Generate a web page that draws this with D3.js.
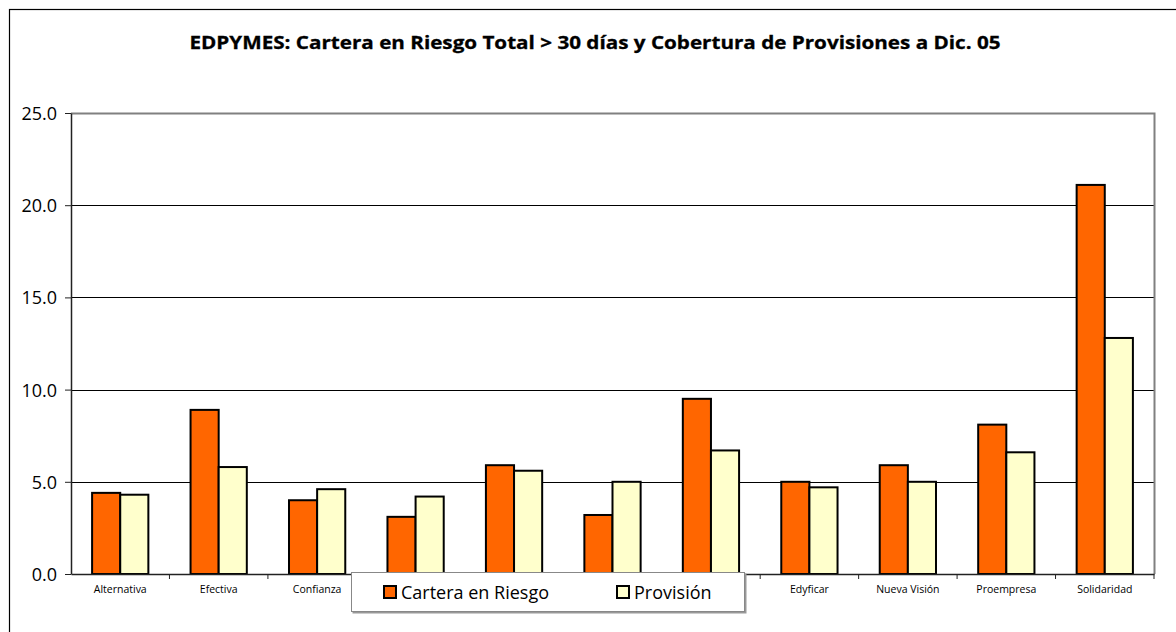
<!DOCTYPE html>
<html lang="es">
<head>
<meta charset="utf-8">
<script src="https://d3js.org/d3.v7.min.js"></script>
<style>
  body { margin: 0; background: #fff; }
  text { font-family: "Open Sans", "Noto Sans", sans-serif; fill: #000; }
</style>
</head>
<body>
<svg width="1176" height="632"></svg>
<script>
// data
var categories = ["Alternativa", "Efectiva", "Confianza", "Crear Arequipa", "Crear Tacna",
                  "Crear Trujillo", "Pronegocios", "Edyficar", "Nueva Visión", "Proempresa", "Solidaridad"];
var carteraRiesgo = [4.4, 8.9, 4.0, 3.1, 5.9, 3.2, 9.5, 5.0, 5.9, 8.1, 21.1];
var provision     = [4.3, 5.8, 4.6, 4.2, 5.6, 5.0, 6.7, 4.7, 5.0, 6.6, 12.8];
var seriesNames = ["Cartera en Riesgo", "Provisión"];
var seriesColors = ["#FF6600", "#FFFFCC"];
var yTicks = [0, 5, 10, 15, 20, 25];

var svg = d3.select("svg");

// outer chart frame (runs off the right and bottom edge)
svg.append("rect")
  .attr("x", 9.5).attr("y", 9.5)
  .attr("width", 1300).attr("height", 800)
  .attr("fill", "none").attr("stroke", "#000").attr("stroke-width", 1.2);

// title
svg.append("text")
  .attr("x", 595).attr("y", 49)
  .attr("text-anchor", "middle")
  .attr("font-size", "18px").attr("font-weight", "bold")
  .attr("stroke", "#000").attr("stroke-width", 0.3)
  .attr("textLength", 811).attr("lengthAdjust", "spacingAndGlyphs")
  .text("EDPYMES: Cartera en Riesgo Total > 30 días y Cobertura de Provisiones a Dic. 05");

var plotLeft = 71, plotRight = 1154, plotTop = 113, plotBottom = 574;

var x = d3.scaleBand().domain(categories).range([plotLeft, plotRight]).paddingInner(0).paddingOuter(0);
var y = d3.scaleLinear().domain([0, 25]).range([plotBottom, plotTop]);
var groupW = x.bandwidth() * 2 / 3.5;
var x1 = d3.scaleBand().domain(seriesNames).range([0, groupW]);

// gridlines
svg.append("g").selectAll("line")
  .data(yTicks.filter(function(d) { return d > 0 && d < 25; }))
  .enter().append("line")
  .attr("x1", plotLeft).attr("x2", plotRight)
  .attr("y1", function(d) { return Math.round(y(d)) + 0.5; })
  .attr("y2", function(d) { return Math.round(y(d)) + 0.5; })
  .attr("stroke", "#000").attr("stroke-width", 1);

// plot area border top/right (gray)
svg.append("path")
  .attr("d", "M" + plotLeft + "," + (plotTop + 0.5) + "H" + (plotRight + 0.5) + "V" + plotBottom)
  .attr("fill", "none").attr("stroke", "#808080").attr("stroke-width", 2);

// bars
var rows = categories.map(function(c, i) { return { cat: c, vals: [carteraRiesgo[i], provision[i]] }; });
var grp = svg.append("g").selectAll("g")
  .data(rows).enter().append("g")
  .attr("transform", function(d) {
    return "translate(" + (x(d.cat) + (x.bandwidth() - groupW) / 2) + ",0)";
  });
grp.selectAll("rect")
  .data(function(d) { return d.vals.map(function(v, j) { return { s: seriesNames[j], v: v, j: j }; }); })
  .enter().append("rect")
  .attr("x", function(d) { return x1(d.s); })
  .attr("y", function(d) { return y(d.v); })
  .attr("width", x1.bandwidth())
  .attr("height", function(d) { return plotBottom - y(d.v); })
  .attr("fill", function(d) { return seriesColors[d.j]; })
  .attr("stroke", "#000").attr("stroke-width", 2);

// y axis
var yAxis = svg.append("g")
  .attr("transform", "translate(" + plotLeft + ",0)")
  .call(d3.axisLeft(y).tickValues(yTicks).tickFormat(d3.format(".1f")).tickSizeInner(6).tickSizeOuter(0));
yAxis.select(".domain").attr("stroke", "#222").attr("stroke-width", 1.5);
yAxis.selectAll(".tick line").attr("stroke", "#222");
yAxis.selectAll("text").attr("font-size", "18px").attr("x", -14).attr("dy", "0.36em")
  .style("font-family", "'Open Sans', sans-serif");

// x axis with ticks between categories
var xAxis = svg.append("g")
  .attr("transform", "translate(0," + plotBottom + ")")
  .call(d3.axisBottom(x).tickSize(0).tickPadding(12));
xAxis.select(".domain").attr("stroke", "#222").attr("stroke-width", 1.5);
xAxis.selectAll("text").attr("font-size", "10.5px").style("font-family", "'Open Sans', sans-serif");
xAxis.selectAll(".sep")
  .data(categories.map(function(c) { return x(c); }).concat([plotRight]).slice(1))
  .enter().append("line")
  .attr("x1", function(d) { return d; }).attr("x2", function(d) { return d; })
  .attr("y1", 0).attr("y2", 5)
  .attr("stroke", "#222");

// legend (sits over the middle category labels, as in the original)
var lg = svg.append("g").attr("transform", "translate(351,572)");
lg.append("rect")
  .attr("x", 1.5).attr("y", 1.5).attr("width", 394).attr("height", 40)
  .attr("fill", "#999");
lg.append("rect")
  .attr("x", 0.5).attr("y", 0.5).attr("width", 393).attr("height", 39)
  .attr("fill", "#fff").attr("stroke", "#888").attr("stroke-width", 1);
var legX = [33, 266];
var items = lg.selectAll(".item").data(seriesNames).enter().append("g")
  .attr("transform", function(d, i) { return "translate(" + legX[i] + ",14)"; });
items.append("rect")
  .attr("width", 12).attr("height", 12)
  .attr("fill", function(d, i) { return seriesColors[i]; })
  .attr("stroke", "#000").attr("stroke-width", 2);
items.append("text")
  .attr("x", 17).attr("y", 13)
  .attr("font-size", "18px")
  .text(function(d) { return d; });
</script>
</body>
</html>
